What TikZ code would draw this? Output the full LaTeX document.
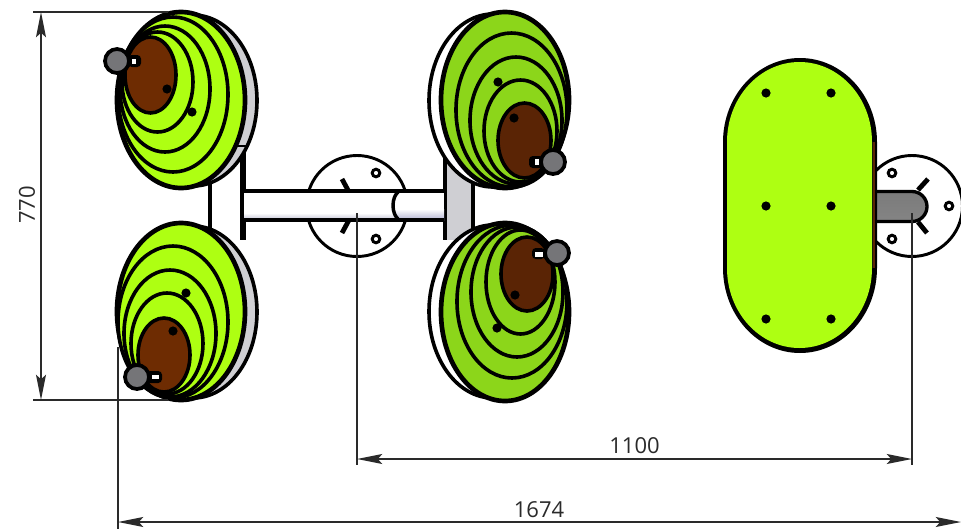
\documentclass[tikz,border=0pt]{standalone}
\usepackage{fontspec}
\setmainfont{Open Sans}
\usetikzlibrary{arrows.meta}
\definecolor{limeA}{HTML}{AEFF12}
\definecolor{limeB}{HTML}{8CD61A}
\definecolor{brownA}{HTML}{6E2C02}
\definecolor{brownB}{HTML}{5A2405}
\definecolor{rimgrey}{HTML}{CFCFD3}
\definecolor{dimc}{HTML}{2A2A2A}
\definecolor{knobc}{HTML}{757578}
\tikzset{
  ol/.style={draw=black,line width=2.7pt},
  thick outline/.style={draw=black,line width=3.5pt},
  dimline/.style={draw=dimc,line width=0.9pt},
  dimarrow/.style={dimline,{Stealth[length=19pt,width=7.5pt,inset=3.5pt]}-{Stealth[length=19pt,width=7.5pt,inset=3.5pt]}},
  dimtext/.style={text=dimc,font=\fontsize{16.5}{18}\selectfont,inner sep=0pt},
  dot/.style={fill=black,draw=none},
  hole/.style={draw=black,line width=2.2pt,fill=white},
  tick/.style={draw=black,line width=3.6pt},
}
\newcommand\bbell[5][]{%
  \pgfmathsetmacro\cxa{(#2+#4)/2}\pgfmathsetmacro\cya{(#3+#5)/2}%
  \pgfmathsetmacro\rxa{(#4-#2)/2}\pgfmathsetmacro\rya{(#5-#3)/2}%
  \path[#1] (\cxa,\cya) ellipse [x radius=\rxa,y radius=\rya];}
\newcommand\bdot[2]{\fill[dot] (#1,#2) circle [radius=4.6];}
\newcommand\pin[8]{% black box, white box
  \fill[black,rounded corners=2.8pt] (#1,#2) rectangle (#3,#4);
  \fill[white] (#5,#6) rectangle (#7,#8);}
\newcommand\knob[2]{\path[fill=knobc,draw=black,line width=2.8pt] (#1,#2) circle [radius=12];}
\begin{document}
\begin{tikzpicture}[x=0.75pt,y=-0.75pt]
\useasboundingbox (0,0) rectangle (961,529);
% flanges
\path[draw=black,line width=2.2pt,fill=white] (357,206) circle [radius=50.5];
\path[hole] (376,173) circle [radius=3.8];
\path[hole] (376,239) circle [radius=3.8];
\draw[tick] (342,179) -- (349,192);
\draw[tick] (342,233) -- (349,220);
\path[draw=black,line width=2.2pt,fill=white] (912,206) circle [radius=50.5];
\path[hole] (892,173) circle [radius=3.8];
\path[hole] (949,206) circle [radius=3.8];
\path[hole] (892,239) circle [radius=3.8];
\draw[tick] (918,190) -- (928,179);
\draw[tick] (918,222) -- (927,233);
% rod on the right
\path[top color=black!52,middle color=black!40,bottom color=black!48,draw=black,line width=2.5pt]
  (870,191.5) -- (912,191.5) arc [start angle=-90,end angle=90,radius=15] -- (870,221.5) -- cycle;
% posts
\fill[white] (210,140) rectangle (243,240);
\draw[line width=2.4pt] (210,170) -- (210,240);
\draw[line width=3.8pt] (243,140) -- (243,240);
\fill[rimgrey] (445,140) rectangle (473,240);
\draw[line width=3.4pt] (445,140) -- (445,240);
\draw[line width=2.4pt] (473,140) -- (473,240);
% tube
\fill[white] (244,191) rectangle (444,220);
\shade[top color=white,bottom color=blue!30!black!25!white] (244,213) rectangle (398,220);
\shade[top color=white,bottom color=blue!40!black!30!white] (395,209) rectangle (444,220);
\draw[line width=2.6pt] (399,191) .. controls (391,197) and (391,214) .. (399,220);
\draw[line width=2.8pt] (244,191) -- (444,191);
\draw[line width=2.8pt] (244,220) -- (444,220);
% disc top left
\bbell[ol,fill=rimgrey]{129}{15}{257}{186}
\draw[line width=1.6pt] (237,146) -- (247,146);
\bbell[thick outline,fill=limeA]{117}{12}{245}{188}
\bbell[ol,fill=limeA]{118}{17}{228}{172}
\bbell[ol,fill=limeA]{120}{26}{210}{152}
\bbell[ol,fill=limeA]{122}{32}{193}{132}
\bbell[ol,fill=brownA]{125}{37}{176}{113}
\bdot{167}{89}\bdot{192}{112}
\pin{128}{55}{141}{67}{132}{59}{136}{64}
\knob{117}{61}
% disc bottom left
\bbell[ol,fill=rimgrey]{129}{226}{257}{398}
\bbell[thick outline,fill=limeA]{117}{223}{245}{400}
\bbell[ol,fill=limeA]{118}{246}{228}{398}
\bbell[ol,fill=limeA]{124}{270}{216}{397}
\bbell[ol,fill=limeA]{131}{293}{203}{394}
\bbell[ol,fill=brownA]{138}{318}{190}{392}
\bdot{186}{293}\bdot{173}{331}
\pin{147}{371}{162}{383}{152}{375}{159}{379}
\knob{137}{377}
% disc top right
\bbell[ol,fill=white]{429}{14}{557}{187}
\bbell[thick outline,fill=limeB]{441}{12}{569}{188}
\bbell[ol,fill=limeB]{456}{33}{567}{187}
\bbell[ol,fill=limeB]{470}{57}{562}{184}
\bbell[ol,fill=limeB]{484}{80}{557}{182}
\bbell[ol,fill=brownB]{498}{103}{551}{178}
\bdot{498}{82}\bdot{514}{118}
\pin{529}{156}{543}{168}{535}{159}{539}{165}
\knob{553}{162}
% disc bottom right
\bbell[ol,fill=white]{429}{225}{557}{398}
\bbell[thick outline,fill=limeB]{441}{223}{569}{401}
\bbell[ol,fill=limeB]{457}{225}{567}{378}
\bbell[ol,fill=limeB]{471}{227}{563}{357}
\bbell[ol,fill=limeB]{486}{230}{555}{334}
\bbell[ol,fill=brownB]{501}{237}{553}{311}
\bdot{515}{295}\bdot{497}{328}
\pin{532}{248}{545}{259}{535}{252}{543}{257}
\knob{557}{253}
% capsule seat
\path[fill=black] (723,142) arc [start angle=180,end angle=360,x radius=77,y radius=84]
  -- (877,268) arc [start angle=0,end angle=180,x radius=77,y radius=85] -- cycle;
\path[fill=brownB] (873,142) -- (875,142) -- (875,268) -- (873,268) -- cycle;
\path[fill=limeA] (727,142) arc [start angle=180,end angle=360,x radius=72.5,y radius=80]
  -- (872,268) arc [start angle=0,end angle=180,x radius=72.5,y radius=80] -- cycle;
\foreach \yy in {93,206,319}{\bdot{766}{\yy}\bdot{831}{\yy}}
% dimensions
\coordinate (a1) at (357,213);
\coordinate (a2) at (357,465);
\coordinate (b1) at (912,213);
\coordinate (b2) at (912,465);
\coordinate (c1) at (118,347);
\coordinate (c2) at (118,529);
\coordinate (d1) at (33,12);
\coordinate (d2) at (168,12);
\coordinate (e1) at (33,400);
\coordinate (e2) at (168,400);
\coordinate (f1) at (357,459);
\coordinate (f2) at (912,459);
\coordinate (g1) at (118,522);
\coordinate (g2) at (961,522);
\coordinate (h1) at (41,12);
\coordinate (h2) at (41,400);
\draw[dimline] (a1) -- (a2);
\draw[dimline] (b1) -- (b2);
\draw[dimline] (c1) -- (c2);
\draw[dimline] (d1) -- (d2);
\draw[dimline] (e1) -- (e2);
\draw[dimarrow] (f1) -- (f2);
\draw[dimarrow] (g1) -- (g2);
\draw[dimarrow] (h1) -- (h2);
\node[dimtext] (t1100) at (634.5,446) {1100};
\node[dimtext] (t1674) at (539,510) {1674};
\node[dimtext,rotate=90] (t770) at (27,205) {770};
\end{tikzpicture}
\end{document}
